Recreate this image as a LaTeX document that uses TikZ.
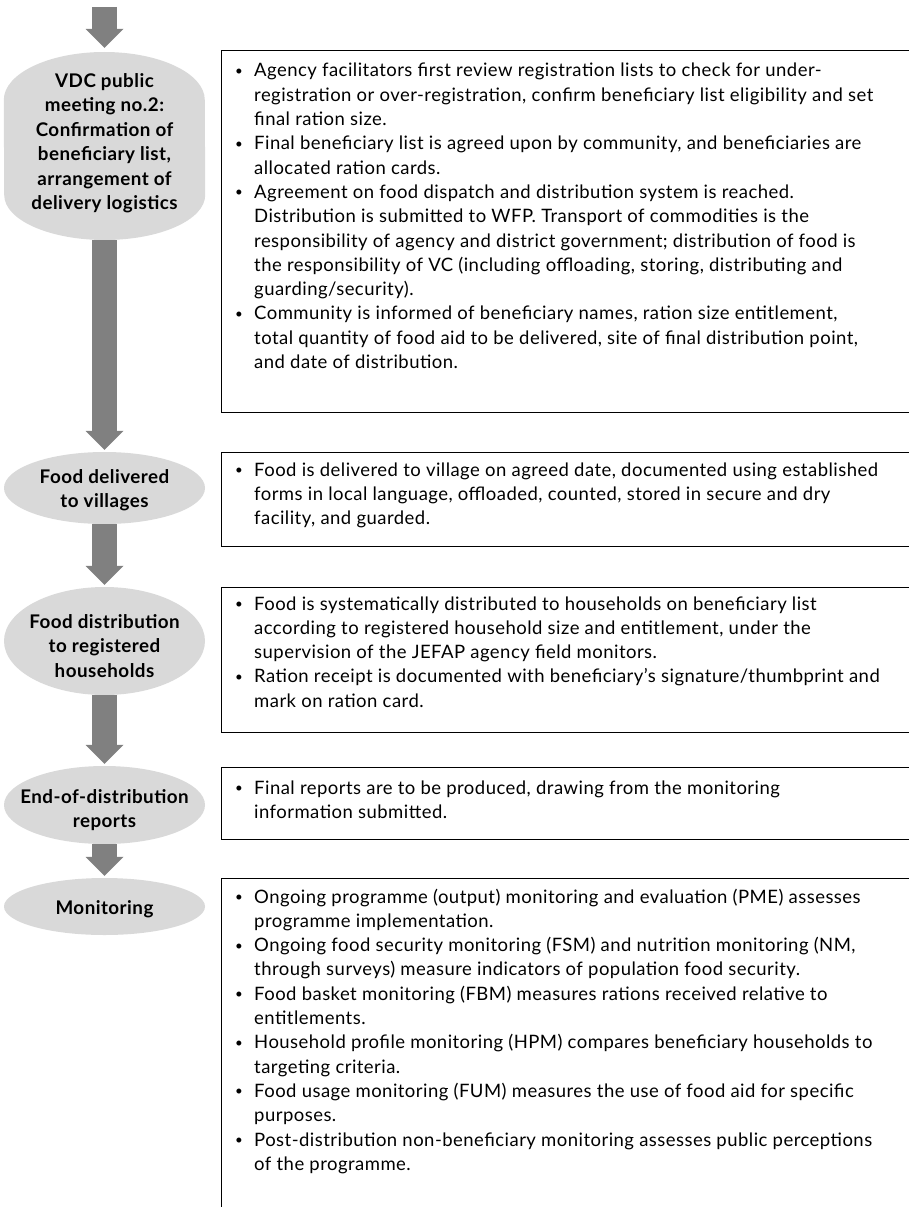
\documentclass[tikz,border=0pt]{standalone}
\usepackage{fontspec}
\setmainfont{Lato}[LetterSpace=2.5]
\usetikzlibrary{arrows.meta,shapes.geometric,calc}

\definecolor{stagefill}{HTML}{D9D9D9}
\definecolor{flowgray}{HTML}{808080}

\newcommand\bodysize{\fontsize{18.5}{24.3}\selectfont}
\newcommand\stagesize{\fontsize{18.8}{24.5}\selectfont}
\newcommand\blt{\makebox[23pt][l]{\hspace{4pt}\raisebox{1.5pt}{\scalebox{0.72}{\textbullet}}}}

\begin{document}
\begin{tikzpicture}[x=1pt,y=-1pt,
  stage/.style={ellipse, fill=stagefill, inner sep=0pt, minimum width=201pt},
  stagetext/.style={anchor=base, inner sep=0pt, font=\bfseries\stagesize},
  infobox/.style={draw=black, line width=1.1pt, anchor=north west, inner sep=0pt, minimum width=720pt},
  infotext/.style={anchor=base west, inner sep=0pt, font=\bodysize},
  flow/.style={draw=flowgray, line width=25pt,
    -{Triangle[width=38pt,length=19pt,line width=0pt]}, shorten >=2pt}]
\useasboundingbox (0,0) rectangle (908,1207);

% ---- stages (left column) ----
% first stage: tall capsule with elliptic ends
\node[inner sep=0pt, minimum width=201pt, minimum height=188pt] (e1) at (104.5,146) {};
\fill[stagefill] (e1.west |- 0,100) arc[start angle=180, end angle=360, x radius=100.5, y radius=48]
  -- (e1.east |- 0,195) arc[start angle=0, end angle=180, x radius=100.5, y radius=45] -- cycle;
\node[stagetext] (t1) at (104.5,87) {\begin{tabular}[t]{@{}c@{}}VDC public\\meeting no.2:\\Confirmation of\\beneficiary list,\\arrangement of\\delivery logistics\end{tabular}};

\node[stage, minimum height=72pt] (e2) at (104.5,488) {};
\node[stagetext] (t2) at (104.5,483) {\begin{tabular}[t]{@{}c@{}}Food delivered\\to villages\end{tabular}};

\node[stage, minimum height=108pt] (e3) at (104.5,641) {};
\node[stagetext] (t3) at (104.5,628) {\begin{tabular}[t]{@{}c@{}}Food distribution\\to registered\\households\end{tabular}};

\node[stage, minimum height=78pt] (e4) at (104.5,805) {};
\node[stagetext] (t4) at (104.5,803) {\begin{tabular}[t]{@{}c@{}}End-of-distribution\\reports\end{tabular}};

\node[stage, minimum height=57pt] (e5) at (104.5,906.5) {};
\node[stagetext] (t5) at (104.5,914) {Monitoring};

% ---- flow arrows ----
\coordinate (start) at (104.5,7);
\draw[flow, shorten >=4pt] (start) -- (e1.north);
\draw[flow] (e1.south) -- (e2.north);
\draw[flow] (e2.south) -- (e3.north);
\draw[flow] (e3.south) -- (e4.north);
\draw[flow] (e4.south) -- (e5.north);

% ---- description boxes (right column) ----
\node[infobox, minimum height=362pt] (b1) at (221,50) {};
\node[infotext] (d1) at (231,77) {\begin{tabular}[t]{@{}l@{}l@{}}
\blt & Agency facilitators first review registration lists to check for under-\\
 & registration or over-registration, confirm beneficiary list eligibility and set\\
 & final ration size.\\
\blt & Final beneficiary list is agreed upon by community, and beneficiaries are\\
 & allocated ration cards.\\
\blt & Agreement on food dispatch and distribution system is reached.\\
 & Distribution is submitted to WFP. Transport of commodities is the\\
 & responsibility of agency and district government; distribution of food is\\
 & the responsibility of VC (including offloading, storing, distributing and\\
 & guarding/security).\\
\blt & Community is informed of beneficiary names, ration size entitlement,\\
 & total quantity of food aid to be delivered, site of final distribution point,\\
 & and date of distribution.
\end{tabular}};

\node[infobox, minimum height=94pt] (b2) at (221,452) {};
\node[infotext] (d2) at (231,476) {\begin{tabular}[t]{@{}l@{}l@{}}
\blt & Food is delivered to village on agreed date, documented using established\\
 & forms in local language, offloaded, counted, stored in secure and dry\\
 & facility, and guarded.
\end{tabular}};

\node[infobox, minimum height=145pt] (b3) at (221,587) {};
\node[infotext] (d3) at (231,610) {\begin{tabular}[t]{@{}l@{}l@{}}
\blt & Food is systematically distributed to households on beneficiary list\\
 & according to registered household size and entitlement, under the\\
 & supervision of the JEFAP agency field monitors.\\
\blt & Ration receipt is documented with beneficiary's signature/thumbprint and\\
 & mark on ration card.
\end{tabular}};

\node[infobox, minimum height=72pt] (b4) at (221,767) {};
\node[infotext] (d4) at (231,794) {\begin{tabular}[t]{@{}l@{}l@{}}
\blt & Final reports are to be produced, drawing from the monitoring\\
 & information submitted.
\end{tabular}};

\node[infobox, minimum height=345pt] (b5) at (221,878) {};
\node[infotext] (d5) at (231,903) {\begin{tabular}[t]{@{}l@{}l@{}}
\blt & Ongoing programme (output) monitoring and evaluation (PME) assesses\\
 & programme implementation.\\
\blt & Ongoing food security monitoring (FSM) and nutrition monitoring (NM,\\
 & through surveys) measure indicators of population food security.\\
\blt & Food basket monitoring (FBM) measures rations received relative to\\
 & entitlements.\\
\blt & Household profile monitoring (HPM) compares beneficiary households to\\
 & targeting criteria.\\
\blt & Food usage monitoring (FUM) measures the use of food aid for specific\\
 & purposes.\\
\blt & Post-distribution non-beneficiary monitoring assesses public perceptions\\
 & of the programme.
\end{tabular}};
\end{tikzpicture}
\end{document}
